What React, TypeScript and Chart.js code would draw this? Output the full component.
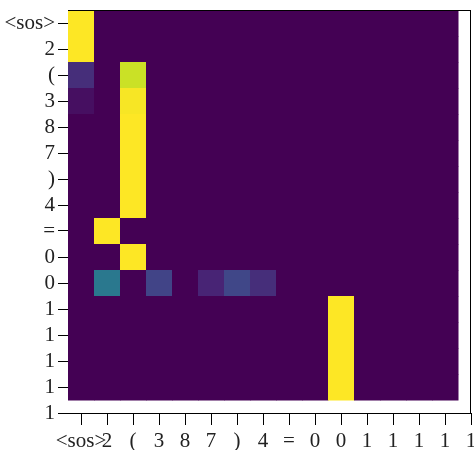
import { useEffect, useRef } from "react";
import { Chart, registerables } from "chart.js";

Chart.register(...registerables);

const xLabels = ["<sos>", "2", "(", "3", "8", "7", ")", "4", "=", "0", "0", "1", "1", "1", "1", "1"];
const yLabels = ["<sos>", "2", "(", "3", "8", "7", ")", "4", "=", "0", "0", "1", "1", "1", "1", "1"];

// attention weights, one row per query token (15 rows x 15 columns)
const row0 = [1, 0, 0, 0, 0, 0, 0, 0, 0, 0, 0, 0, 0, 0, 0];
const row1 = [1, 0, 0, 0, 0, 0, 0, 0, 0, 0, 0, 0, 0, 0, 0];
const row2 = [0.13, 0, 0.92, 0, 0, 0, 0, 0, 0, 0, 0, 0, 0, 0, 0];
const row3 = [0.04, 0, 0.99, 0, 0, 0, 0, 0, 0, 0, 0, 0, 0, 0, 0];
const row4 = [0, 0, 1, 0, 0, 0, 0, 0, 0, 0, 0, 0, 0, 0, 0];
const row5 = [0, 0, 1, 0, 0, 0, 0, 0, 0, 0, 0, 0, 0, 0, 0];
const row6 = [0, 0, 1, 0, 0, 0, 0, 0, 0, 0, 0, 0, 0, 0, 0];
const row7 = [0, 0, 1, 0, 0, 0, 0, 0, 0, 0, 0, 0, 0, 0, 0];
const row8 = [0, 1, 0, 0, 0, 0, 0, 0, 0, 0, 0, 0, 0, 0, 0];
const row9 = [0, 0, 1, 0, 0, 0, 0, 0, 0, 0, 0, 0, 0, 0, 0];
const row10 = [0, 0.4, 0, 0.2, 0, 0.1, 0.21, 0.13, 0, 0, 0, 0, 0, 0, 0];
const row11 = [0, 0, 0, 0, 0, 0, 0, 0, 0, 0, 1, 0, 0, 0, 0];
const row12 = [0, 0, 0, 0, 0, 0, 0, 0, 0, 0, 1, 0, 0, 0, 0];
const row13 = [0, 0, 0, 0, 0, 0, 0, 0, 0, 0, 1, 0, 0, 0, 0];
const row14 = [0, 0, 0, 0, 0, 0, 0, 0, 0, 0, 1, 0, 0, 0, 0];
const attention = [row0, row1, row2, row3, row4, row5, row6, row7, row8, row9, row10, row11, row12, row13, row14];

const VIRIDIS = [
  "#440154", "#482475", "#414487", "#355f8d", "#2a788e", "#21918c",
  "#22a884", "#44bf70", "#7ad151", "#bddf26", "#fde725",
];

function hexToRgb(h: string) {
  return [parseInt(h.slice(1, 3), 16), parseInt(h.slice(3, 5), 16), parseInt(h.slice(5, 7), 16)];
}

function viridis(t: number) {
  const v = Math.max(0, Math.min(1, t)) * (VIRIDIS.length - 1);
  const i = Math.min(Math.floor(v), VIRIDIS.length - 2);
  const f = v - i;
  const a = hexToRgb(VIRIDIS[i]);
  const b = hexToRgb(VIRIDIS[i + 1]);
  const c = a.map((x, k) => Math.round(x + (b[k] - x) * f));
  return `rgb(${c[0]},${c[1]},${c[2]})`;
}

const FONT = { family: "'Liberation Serif', 'DejaVu Serif', serif", size: 21 };

const heatmapPlugin = {
  id: "heatmap",
  beforeDatasetsDraw(chart: any) {
    const { ctx, chartArea } = chart;
    const xs = chart.scales.x;
    const ys = chart.scales.y;
    ctx.save();
    ctx.fillStyle = "#ffffff";
    ctx.fillRect(chartArea.left, chartArea.top, chartArea.right - chartArea.left, chartArea.bottom - chartArea.top);
    for (const p of chart.data.datasets[0].data as any[]) {
      const x0 = xs.getPixelForValue(p.x - 0.5);
      const x1 = xs.getPixelForValue(p.x + 0.5);
      const y0 = ys.getPixelForValue(p.y - 0.5);
      const y1 = ys.getPixelForValue(p.y + 0.5);
      ctx.fillStyle = viridis(p.v);
      ctx.fillRect(Math.min(x0, x1), Math.min(y0, y1), Math.abs(x1 - x0) + 0.5, Math.abs(y1 - y0) + 0.5);
    }
    ctx.restore();
  },
  afterDraw(chart: any) {
    const { ctx, chartArea } = chart;
    ctx.save();
    ctx.strokeStyle = "#000";
    ctx.lineWidth = 1;
    ctx.beginPath();
    ctx.moveTo(chartArea.left, chartArea.top + 0.5);
    ctx.lineTo(chartArea.right, chartArea.top + 0.5);
    ctx.moveTo(chartArea.right - 0.5, chartArea.top);
    ctx.lineTo(chartArea.right - 0.5, chartArea.bottom);
    ctx.stroke();
    ctx.restore();
  },
};

export default function App() {
  const ref = useRef<HTMLCanvasElement>(null);

  useEffect(() => {
    if (!ref.current) return;
    const points: { x: number; y: number; v: number }[] = [];
    attention.forEach((row, i) => row.forEach((v, j) => points.push({ x: j, y: i, v })));

    const chart = new Chart(ref.current, {
      type: "scatter",
      data: {
        datasets: [
          {
            data: points as any,
            pointRadius: 0,
            pointHoverRadius: 0,
          },
        ],
      },
      plugins: [heatmapPlugin],
      options: {
        animation: false,
        responsive: false,
        events: [],
        layout: { padding: { top: 10, right: 3, left: 0, bottom: 0 } },
        plugins: { legend: { display: false }, tooltip: { enabled: false } },
        scales: {
          x: {
            type: "linear",
            min: -0.5,
            max: 15,
            afterBuildTicks: (scale: any) => {
              scale.ticks = xLabels.map((_, i) => ({ value: i }));
            },
            afterFit: (scale: any) => {
              scale.height = 37;
              scale.paddingLeft = 0;
              scale.paddingRight = 0;
            },
            ticks: {
              autoSkip: false,
              maxRotation: 0,
              minRotation: 0,
              padding: 4,
              color: "#222",
              font: FONT,
              callback: (v: any) => xLabels[Math.round(Number(v))] ?? "",
            },
            grid: { drawOnChartArea: false, drawTicks: true, tickLength: 12, color: "#000", lineWidth: 1 },
            border: { display: true, color: "#000", width: 1 },
          },
          y: {
            type: "linear",
            reverse: true,
            min: -0.5,
            max: 15,
            afterBuildTicks: (scale: any) => {
              scale.ticks = yLabels.map((_, i) => ({ value: i }));
            },
            afterFit: (scale: any) => {
              scale.width = 68;
              scale.paddingTop = 0;
              scale.paddingBottom = 0;
            },
            ticks: {
              autoSkip: false,
              padding: 3,
              color: "#222",
              font: FONT,
              callback: (v: any) => yLabels[Math.round(Number(v))] ?? "",
            },
            grid: { drawOnChartArea: false, drawTicks: true, tickLength: 10, color: "#000", lineWidth: 1 },
            border: { display: true, color: "#000", width: 1 },
          },
        },
      },
    });
    return () => chart.destroy();
  }, []);

  return (
    <div style={{ position: "absolute", left: 0, top: 0, width: 474, height: 450, background: "#fff" }}>
      <canvas ref={ref} width={474} height={450} style={{ display: "block" }} />
    </div>
  );
}
